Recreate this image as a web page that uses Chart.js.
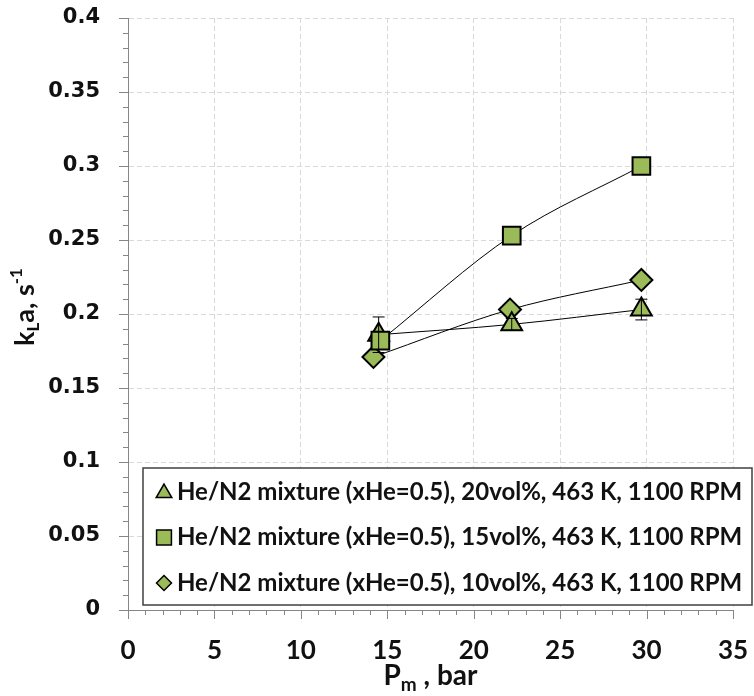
<!DOCTYPE html>
<html lang="en">
<head>
<meta charset="UTF-8">
<title>kLa vs Pm</title>
<script src="https://cdn.jsdelivr.net/npm/chart.js"></script>
<style>
  body { margin: 0; background: #fff; }
  canvas { display: block; }
</style>
</head>
<body>
<canvas id="grafico" width="754" height="696"></canvas>
<script>
// series names (legend order)
const seriesLabels = [
  'He/N2 mixture (xHe=0.5), 20vol%, 463 K, 1100 RPM',
  'He/N2 mixture (xHe=0.5), 15vol%, 463 K, 1100 RPM',
  'He/N2 mixture (xHe=0.5), 10vol%, 463 K, 1100 RPM'
];
// 20vol% - triangles, with error bars
const triX = [14.5, 22.2, 29.7];
const triY = [0.186, 0.193, 0.203];
const triErr = [0.012, 0.004, 0.007];
// 15vol% - squares
const sqX = [14.6, 22.2, 29.7];
const sqY = [0.182, 0.253, 0.300];
// 10vol% - diamonds
const diaX = [14.2, 22.1, 29.7];
const diaY = [0.171, 0.203, 0.223];
// axis ranges / steps
const xRange = [0, 35, 5, 1];        // min, max, major, minor
const yRange = [0, 0.4, 0.05, 0.01];

const GREEN = '#9BBB59';
const AXIS = '#868686';
const TXT = '#111';

function pts(xs, ys) { return xs.map((v, i) => ({ x: v, y: ys[i] })); }

function serie(label, data, style, r, order) {
  return {
    label: label, data: data, order: order,
    showLine: true, cubicInterpolationMode: 'monotone', fill: false,
    borderColor: '#000', borderWidth: 1,
    pointStyle: style, pointRadius: r, pointHoverRadius: r,
    pointBackgroundColor: GREEN, pointBorderColor: '#000', pointBorderWidth: 2
  };
}

// draws text pieces with sub/superscripts, centred on (0,0) baseline
function richText(ctx, parts) {
  let total = 0;
  parts.forEach(p => { ctx.font = p.f; p.w = ctx.measureText(p.t).width; total += p.w; });
  let cx = -total / 2;
  ctx.textBaseline = 'alphabetic';
  ctx.textAlign = 'left';
  parts.forEach(p => { ctx.font = p.f; ctx.fillText(p.t, cx, p.dy); cx += p.w; });
}

const extras = {
  id: 'extras',
  afterDatasetsDraw(chart) {
    const { ctx, scales: { x, y } } = chart;
    ctx.save();
    ctx.strokeStyle = '#000';
    ctx.lineWidth = 1;
    triX.forEach((v, i) => {
      const px = x.getPixelForValue(v);
      const top = y.getPixelForValue(triY[i] + triErr[i]);
      const bot = y.getPixelForValue(triY[i] - triErr[i]);
      ctx.beginPath();
      ctx.moveTo(px, top); ctx.lineTo(px, bot);
      ctx.moveTo(px - 6, top); ctx.lineTo(px + 6, top);
      ctx.moveTo(px - 6, bot); ctx.lineTo(px + 6, bot);
      ctx.stroke();
    });
    ctx.restore();
  },
  afterDraw(chart) {
    const { ctx, chartArea: area, scales: { x, y } } = chart;
    ctx.save();

    // major / minor tick marks
    ctx.strokeStyle = AXIS;
    ctx.lineWidth = 1;
    ctx.beginPath();
    for (let i = 0; i <= Math.round((xRange[1] - xRange[0]) / xRange[3]); i++) {
      const v = xRange[0] + i * xRange[3];
      const px = Math.round(x.getPixelForValue(v)) + 0.5;
      const len = (i % Math.round(xRange[2] / xRange[3]) === 0) ? 9 : 5;
      ctx.moveTo(px, area.bottom); ctx.lineTo(px, area.bottom + len);
    }
    for (let i = 0; i <= Math.round((yRange[1] - yRange[0]) / yRange[3]); i++) {
      const v = yRange[0] + i * yRange[3];
      const py = Math.round(y.getPixelForValue(v)) + 0.5;
      const len = (i % Math.round(yRange[2] / yRange[3]) === 0) ? 9 : 5;
      ctx.moveTo(area.left, py); ctx.lineTo(area.left - len, py);
    }
    ctx.stroke();

    // legend box
    const lx = area.left + 15, ly = area.bottom - 142;
    const lw = chart.width - 2 - lx, lh = 137;
    ctx.fillStyle = '#fff';
    ctx.fillRect(lx, ly, lw, lh);
    ctx.strokeStyle = '#404040';
    ctx.lineWidth = 1.5;
    ctx.strokeRect(lx, ly, lw, lh);

    const marks = [['triangle', 9], ['rect', 10.5], ['rectRot', 7.5]];
    chart.data.datasets.forEach((ds, i) => {
      const ry = ly + 24 + i * 45.5;
      ctx.fillStyle = GREEN;
      ctx.strokeStyle = '#000';
      ctx.lineWidth = 1.5;
      Chart.helpers.drawPoint(ctx, { pointStyle: marks[i][0], radius: marks[i][1], rotation: 0, borderWidth: 1.5 }, lx + 21, ry + (i === 0 ? 1 : 0));
      ctx.fillStyle = TXT;
      ctx.font = 'bold 24px Lato';
      ctx.textBaseline = 'middle';
      ctx.textAlign = 'left';
      ctx.fillText(ds.label, lx + 34, ry);
    });

    // axis titles
    ctx.fillStyle = TXT;
    ctx.save();
    ctx.translate(34, (area.top + area.bottom) / 2 - 7);
    ctx.rotate(-Math.PI / 2);
    richText(ctx, [
      { t: 'k', f: 'bold 27px Lato', dy: 0 },
      { t: 'L', f: 'bold 17px Lato', dy: 5 },
      { t: 'a, s', f: 'bold 27px Lato', dy: 0 },
      { t: '-1', f: 'bold 17px Lato', dy: -12 }
    ]);
    ctx.restore();

    ctx.save();
    ctx.translate((area.left + area.right) / 2, 685);
    richText(ctx, [
      { t: 'P', f: 'bold 28px Lato', dy: 0 },
      { t: 'm', f: 'bold 19px Lato', dy: 6 },
      { t: ' , bar', f: 'bold 28px Lato', dy: 0 }
    ]);
    ctx.restore();

    ctx.restore();
  }
};

const ctx = document.getElementById('grafico').getContext('2d');
const chart = new Chart(ctx, {
  type: 'scatter',
  data: {
    datasets: [
      serie(seriesLabels[0], pts(triX, triY), 'triangle', 12, 1),
      serie(seriesLabels[1], pts(sqX, sqY), 'rect', 12.5, 0),
      serie(seriesLabels[2], pts(diaX, diaY), 'rectRot', 11, 2)
    ]
  },
  options: {
    responsive: false,
    animation: false,
    layout: { padding: { top: 18, right: 21, left: 0, bottom: 0 } },
    plugins: { legend: { display: false }, tooltip: { enabled: false } },
    scales: {
      x: {
        type: 'linear', min: xRange[0], max: xRange[1],
        afterFit(s) { s.height = 86; s.paddingLeft = 0; s.paddingRight = 0; },
        ticks: { stepSize: xRange[2], padding: 25, color: TXT, font: { family: 'Lato', weight: 'bold', size: 26 } },
        grid: { color: '#d9d9d9', drawTicks: false },
        border: { display: true, color: AXIS, width: 1, dash: [5, 3] }
      },
      y: {
        type: 'linear', min: yRange[0], max: yRange[1],
        afterFit(s) { s.width = 128; s.paddingTop = 0; s.paddingBottom = 0; },
        ticks: {
          stepSize: yRange[2], padding: 28, color: TXT,
          font: { family: 'DejaVu Sans', weight: 'bold', size: 21 },
          callback: v => String(Math.round(v * 100) / 100)
        },
        grid: { color: '#d9d9d9', drawTicks: false },
        border: { display: true, color: AXIS, width: 1, dash: [5, 3] }
      }
    }
  },
  plugins: [extras]
});
</script>
</body>
</html>
